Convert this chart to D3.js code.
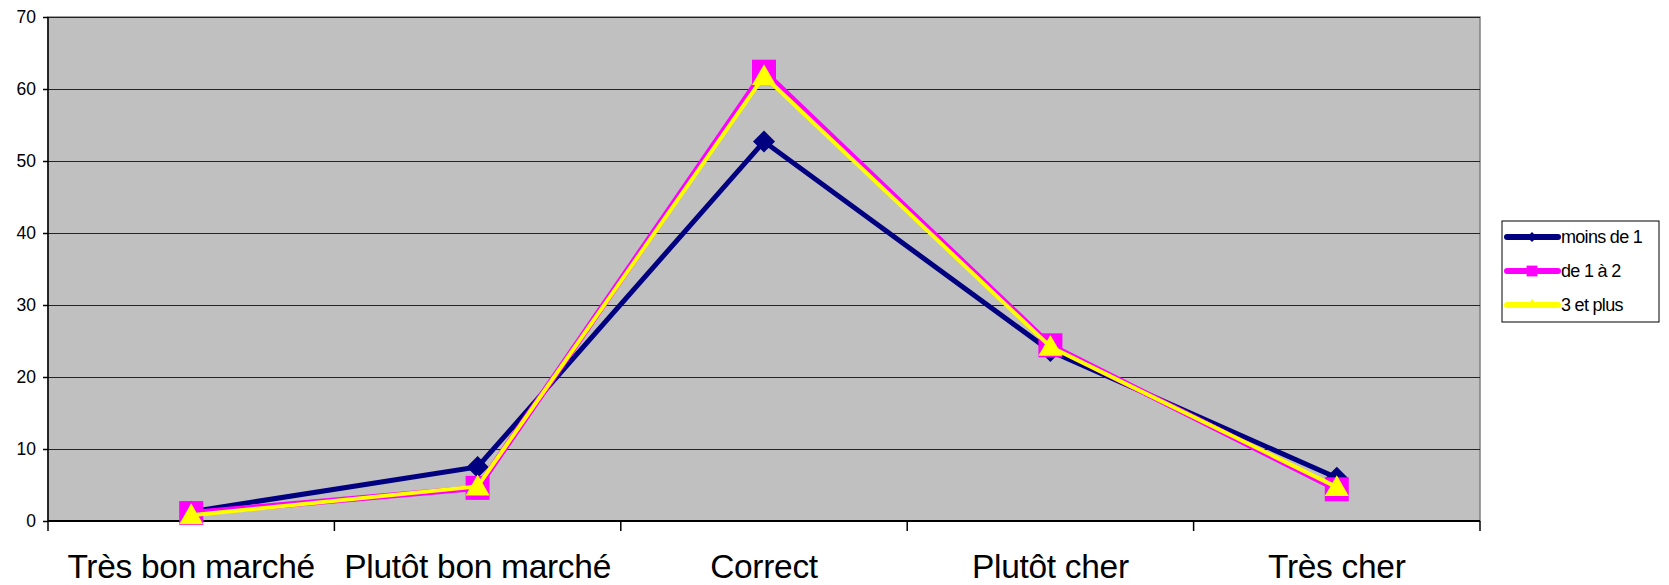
<!DOCTYPE html>
<html>
<head>
<meta charset="utf-8">
<script src="https://cdn.jsdelivr.net/npm/d3@7"></script>
<style>
  body { margin: 0; background: #fff; }
  text { font-family: "Liberation Sans", Arial, sans-serif; fill: #000; }
</style>
</head>
<body>
<svg id="chart" width="1669" height="585"></svg>
<script>
var categories = ["Très bon marché", "Plutôt bon marché", "Correct", "Plutôt cher", "Très cher"];
var seriesNames = ["moins de 1", "de 1 à 2", "3 et plus"];
var moinsDe1 = [1.3, 7.5, 52.7, 23.6, 6.0];
var de1a2 = [1.1, 4.6, 62.4, 24.4, 4.4];
var troisEtPlus = [0.8, 4.8, 61.8, 24.2, 4.7];
var yTicks = [0, 10, 20, 30, 40, 50, 60, 70];

var series = [
  {name: seriesNames[0], values: moinsDe1, color: "#000080", width: 5, symbol: "diamond"},
  {name: seriesNames[1], values: de1a2, color: "#FF00FF", width: 6, symbol: "square"},
  {name: seriesNames[2], values: troisEtPlus, color: "#FFFF00", width: 4, symbol: "triangle"}
];

var plotL = 48, plotR = 1480, plotT = 17, plotB = 521;
var svg = d3.select("#chart");

var x = d3.scaleBand().domain(categories).range([plotL, plotR]);
var y = d3.scaleLinear().domain([0, 70]).range([plotB, plotT]);

// plot background
svg.append("rect")
    .attr("x", plotL).attr("y", plotT)
    .attr("width", plotR - plotL).attr("height", plotB - plotT)
    .attr("fill", "#C0C0C0")
    .attr("stroke", "#808080").attr("stroke-width", 1.5);

// gridlines
svg.append("g").selectAll("line")
    .data(yTicks.slice(1))
  .enter().append("line")
    .attr("x1", plotL).attr("x2", plotR)
    .attr("y1", function(d) { return Math.round(y(d)) + 0.5; })
    .attr("y2", function(d) { return Math.round(y(d)) + 0.5; })
    .attr("stroke", "#222").attr("stroke-width", 1.2);

// y axis
var yAxis = svg.append("g")
    .attr("transform", "translate(" + plotL + ",0)")
    .call(d3.axisLeft(y).tickValues(yTicks).tickSize(5).tickPadding(7));
yAxis.selectAll("text").style("font-size", "17.5px").style("font-family", "'Liberation Sans', Arial, sans-serif");
yAxis.selectAll("line, path").attr("stroke", "#000").attr("stroke-width", 1.5);
yAxis.select(".domain").attr("d", "M0," + plotT + "V" + plotB);

// x axis with ticks on category boundaries
var xa = svg.append("g");
xa.append("line")
    .attr("x1", plotL).attr("x2", plotR)
    .attr("y1", plotB).attr("y2", plotB)
    .attr("stroke", "#000").attr("stroke-width", 2);
var bounds = categories.map(function(c) { return x(c); }).concat([plotR]);
xa.selectAll("line.tick")
    .data(bounds)
  .enter().append("line")
    .attr("class", "tick")
    .attr("x1", function(d) { return d; }).attr("x2", function(d) { return d; })
    .attr("y1", plotB).attr("y2", plotB + 10)
    .attr("stroke", "#000").attr("stroke-width", 1.5);
xa.selectAll("text")
    .data(categories)
  .enter().append("text")
    .attr("x", function(d) { return x(d) + x.bandwidth() / 2; })
    .attr("y", 578)
    .attr("text-anchor", "middle")
    .style("font-size", "33.5px")
    .style("letter-spacing", "-0.3px")
    .text(function(d) { return d; });

function symbolPath(kind, scale) {
  var k = scale || 1;
  if (kind === "diamond") return d3.symbol(d3.symbolSquare, 242 * k * k)();
  if (kind === "square") return d3.symbol(d3.symbolSquare, 576 * k * k)();
  return d3.symbol(d3.symbolTriangle, 250 * k * k)();
}

var line = d3.line()
    .x(function(d, i) { return x(categories[i]) + x.bandwidth() / 2; })
    .y(function(d) { return y(d); });

// magenta line drawn under the yellow one
series.forEach(function(s) {
  var g = svg.append("g");
  g.append("path")
      .attr("d", line(s.values))
      .attr("fill", "none")
      .attr("stroke", s.color)
      .attr("stroke-width", s.width)
      .attr("stroke-linejoin", "miter");
  g.selectAll("path.m")
      .data(s.values)
    .enter().append("path")
      .attr("class", "m")
      .attr("d", symbolPath(s.symbol))
      .attr("transform", function(d, i) {
        var t = "translate(" + (x(categories[i]) + x.bandwidth() / 2) + "," + y(d) + ")";
        if (s.symbol === "diamond") t += " rotate(45)";
        if (s.symbol === "triangle") t += " translate(0,2)";
        return t;
      })
      .attr("fill", s.color);
});

// legend
var lg = svg.append("g");
lg.append("rect")
    .attr("x", 1502).attr("y", 221)
    .attr("width", 157).attr("height", 101)
    .attr("fill", "#fff").attr("stroke", "#000").attr("stroke-width", 1);
series.forEach(function(s, i) {
  var yy = 237 + i * 34;
  lg.append("line")
      .attr("x1", 1507).attr("x2", 1558)
      .attr("y1", yy).attr("y2", yy)
      .attr("stroke", s.color).attr("stroke-width", 6)
      .attr("stroke-linecap", "round");
  lg.append("path")
      .attr("d", symbolPath(s.symbol, 0.45))
      .attr("transform", "translate(1532," + yy + ")" + (s.symbol === "diamond" ? " rotate(45)" : ""))
      .attr("fill", s.color);
  lg.append("text")
      .attr("x", 1561).attr("y", yy)
      .attr("dy", "0.35em")
      .style("font-size", "18px")
      .style("letter-spacing", "-0.7px")
      .text(s.name);
});
</script>
</body>
</html>
